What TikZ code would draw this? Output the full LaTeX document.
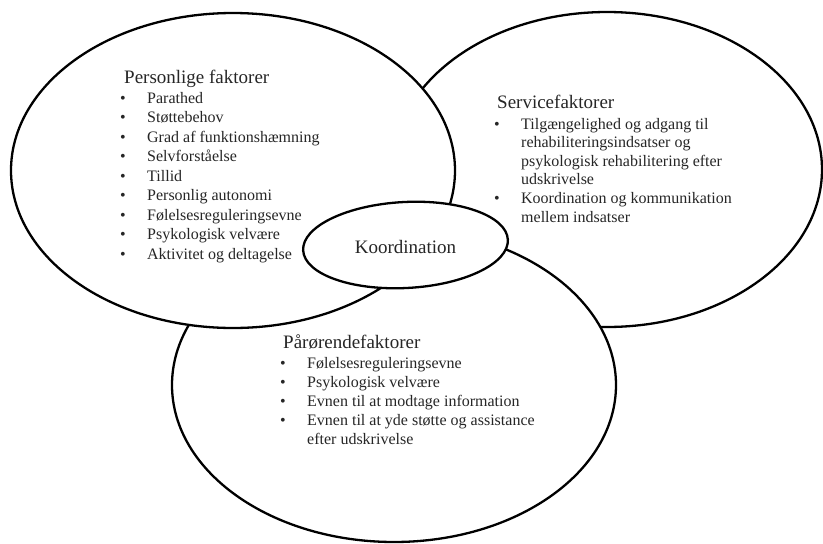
\documentclass[tikz,border=0pt]{standalone}
\usepackage{fontspec}
\setmainfont{Liberation Serif}
\usetikzlibrary{shapes.geometric,positioning}

\begin{document}
\begin{tikzpicture}[x=1pt,y=-1pt,
		oval/.style={ellipse,draw=black,fill=white,line width=2.3pt,inner sep=0pt},
		head/.style={inner sep=0pt,anchor=base west,text=black!85,font=\fontsize{19}{23}\selectfont},
		items/.style={inner sep=0pt,text=black!85,font=\fontsize{16}{19.5}\selectfont}]

			\useasboundingbox (0,0) rectangle (823,544);

			\node[oval,minimum width=430pt,minimum height=315pt] (service) at (607,169.5) {};
			\node[oval,minimum width=444pt,minimum height=314pt] (relatives) at (394,385) {};
			\node[oval,minimum width=444pt,minimum height=315pt] (personal) at (233,170.5) {};
			\node[oval,minimum width=205pt,minimum height=86pt,rotate=3] (coord) at (405.5,245) {};
			\node[inner sep=0pt,text=black!85,font=\fontsize{19}{23}\selectfont] (coordtext) at (coord.center) [yshift=-1.5pt] {Koordination};

			\node[head] (personalhead) at (124,83) {Personlige faktorer};
			\node[items,below=20pt of personalhead.base west,anchor=base west,xshift=-4pt] (personallist) {%
				\begin{tabular}[t]{@{}p{27pt}@{}l@{}}
					\textbullet & Parathed\\
					\textbullet & Støttebehov\\
					\textbullet & Grad af funktionshæmning\\
					\textbullet & Selvforståelse\\
					\textbullet & Tillid\\
					\textbullet & Personlig autonomi\\
					\textbullet & Følelsesreguleringsevne\\
					\textbullet & Psykologisk velvære\\
					\textbullet & Aktivitet og deltagelse
				\end{tabular}};

			\node[head] (servicehead) at (497,108) {Servicefaktorer};
			\node[items,font=\fontsize{16}{18.6}\selectfont,below=21pt of servicehead.base west,anchor=base west,xshift=-3pt] (servicelist) {%
				\begin{tabular}[t]{@{}p{27pt}@{}l@{}}
					\textbullet & Tilgængelighed og adgang til\\
					 & rehabiliteringsindsatser og\\
					 & psykologisk rehabilitering efter\\
					 & udskrivelse\\
					\textbullet & Koordination og kommunikation\\
					 & mellem indsatser
				\end{tabular}};

			\node[head] (relativeshead) at (283,348) {Pårørendefaktorer};
			\node[items,font=\fontsize{16}{19.2}\selectfont,below=20pt of relativeshead.base west,anchor=base west,xshift=-3pt] (relativeslist) {%
				\begin{tabular}[t]{@{}p{27pt}@{}l@{}}
					\textbullet & Følelsesreguleringsevne\\
					\textbullet & Psykologisk velvære\\
					\textbullet & Evnen til at modtage information\\
					\textbullet & Evnen til at yde støtte og assistance\\
					 & efter udskrivelse
				\end{tabular}};
		\end{tikzpicture}
\end{document}
